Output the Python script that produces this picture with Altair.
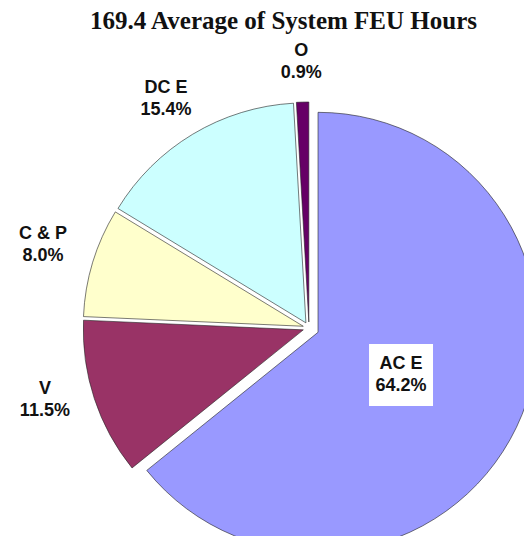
import altair as alt
import pandas as pd

# ---- data ----
categories = ["AC E", "V", "C & P", "DC E", "O"]
shares = [64.2, 11.5, 8.0, 15.4, 0.9]
colors = ["#9999FF", "#993366", "#FFFFCC", "#CCFFFF", "#660066"]
title_text = "169.4 Average of System FEU Hours"

df = pd.DataFrame({"category": categories, "share": shares,
                   "order": list(range(len(categories)))})

CX, CY, R = 301, 320, 220

base = (
    alt.Chart(df)
    .transform_joinaggregate(total="sum(share)")
    .transform_window(cum="sum(share)", sort=[alt.SortField("order")], frame=[None, 0])
    .transform_calculate(
        start="2*PI*(datum.cum - datum.share)/datum.total",
        end="2*PI*datum.cum/datum.total",
        frac="datum.share/datum.total",
    )
    .transform_calculate(
        mid="(datum.start + datum.end)/2",
        ex="datum.frac > 0.5 ? 10 : 6",
        inside="datum.frac > 0.5",
        pct="format(datum.frac, '.1%')",
    )
    .transform_calculate(
        cx=f"{CX} + datum.ex*sin(datum.mid)",
        cy=f"{CY} - datum.ex*cos(datum.mid)",
    )
    .transform_calculate(
        lx=f"datum.inside ? datum.cx + 92*sin(datum.mid) : {CX} + 278*sin(datum.mid)",
        ly=f"datum.inside ? datum.cy - 92*cos(datum.mid) + 3 : {CY} - 8 - 258*cos(datum.mid)",
    )
)

xpos = alt.X("cx:Q", scale=None, axis=None)
ypos = alt.Y("cy:Q", scale=None, axis=None)

arcs = base.mark_arc(radius=R, stroke="#222222", strokeWidth=0.6).encode(
    x=xpos,
    y=ypos,
    theta=alt.Theta("start:Q", scale=None, stack=None),
    theta2="end:Q",
    color=alt.Color("category:N", scale=alt.Scale(domain=categories, range=colors), legend=None),
)

box = base.transform_filter("datum.inside").transform_calculate(
    bx1="datum.lx - 32", bx2="datum.lx + 32", by1="datum.ly - 31", by2="datum.ly + 31"
).mark_rect(color="white").encode(
    x=alt.X("bx1:Q", scale=None, axis=None), x2="bx2:Q",
    y=alt.Y("by1:Q", scale=None, axis=None), y2="by2:Q",
)

lab_style = dict(font="Liberation Sans", fontWeight="bold", fontSize=18, color="#111111",
                 align="center", baseline="middle")
lab1 = base.mark_text(dy=-11, **lab_style).encode(
    x=alt.X("lx:Q", scale=None, axis=None), y=alt.Y("ly:Q", scale=None, axis=None),
    text="category:N")
lab2 = base.mark_text(dy=11, **lab_style).encode(
    x=alt.X("lx:Q", scale=None, axis=None), y=alt.Y("ly:Q", scale=None, axis=None),
    text="pct:N")

title = alt.Chart(pd.DataFrame({"t": [title_text]})).mark_text(
    font="Liberation Serif", fontSize=25, fontWeight="bold", color="#111111",
    align="center", baseline="alphabetic"
).encode(text="t:N", x=alt.value(275.5), y=alt.value(21))

chart = alt.layer(arcs, box, lab1, lab2, title).properties(
    width=516, height=528, autosize="none", padding=0
).configure_view(stroke=None)

chart.save("out.html", embed_options={"renderer": "svg", "actions": False})
